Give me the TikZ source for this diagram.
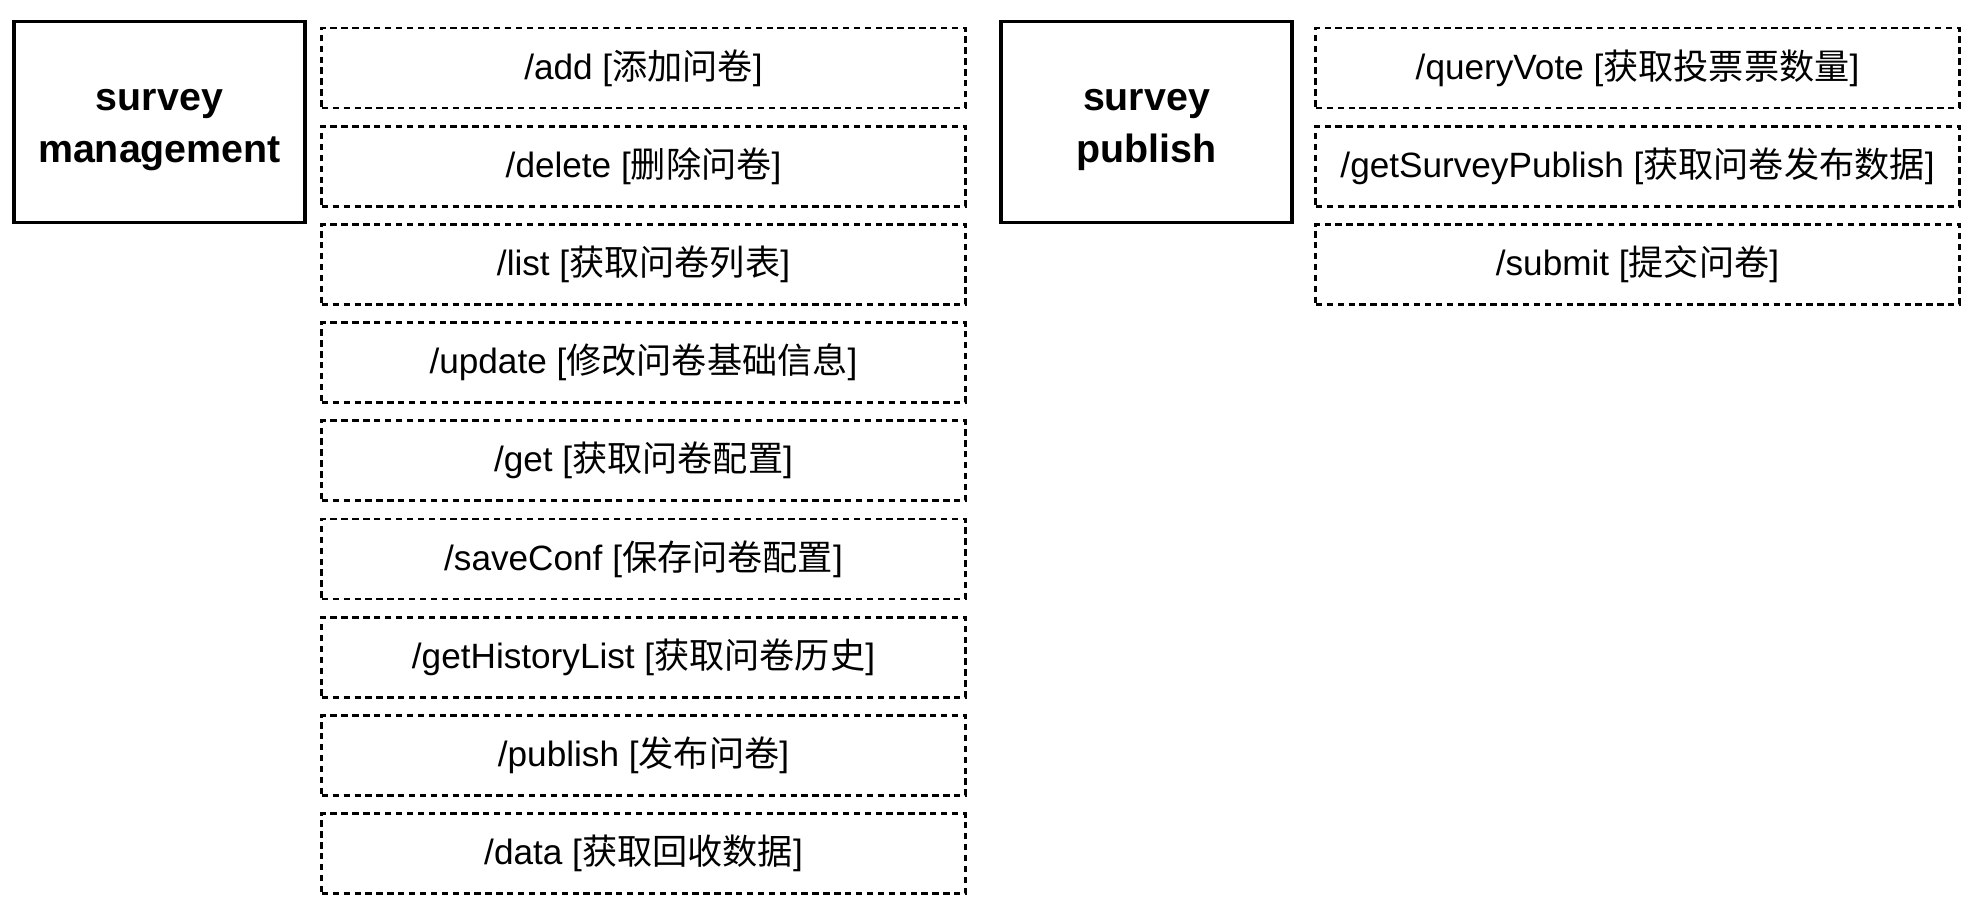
\documentclass[tikz,border=0pt]{standalone}
\usepackage{fontspec}
\setmainfont{Liberation Sans}
\newfontfamily\cjk{Noto Sans CJK SC}
\newcommand\zh[1]{{\cjk #1}}
\newcommand\topstrut{\rule{0pt}{10.5pt}}
\begin{document}
\begin{tikzpicture}[x=0.01cm,y=-0.01cm,
  module/.style={draw, line width=1pt, minimum width=2.91cm, minimum height=2.01cm, inner sep=0pt, align=center, font=\bfseries\fontsize{11.2}{14.7}\selectfont},
  api/.style={draw, line width=0.8pt, dash pattern=on 1.8pt off 1.3pt, minimum width=6.43cm, minimum height=0.8cm, inner sep=0pt, font=\fontsize{10}{12}\selectfont}]
\useasboundingbox (0,0) rectangle (1986,914);
\node[module] (mgmt) at (159.5,122) {\topstrut survey\\management};
\node[api] (add) at (643.5,68) {/add [\zh{添加问卷}]};
\node[api] (delete) at (643.5,166.2) {/delete [\zh{删除问卷}]};
\node[api] (list) at (643.5,264.4) {/list [\zh{获取问卷列表}]};
\node[api] (update) at (643.5,362.6) {/update [\zh{修改问卷基础信息}]};
\node[api] (get) at (643.5,460.8) {/get [\zh{获取问卷配置}]};
\node[api] (saveconf) at (643.5,559) {/saveConf [\zh{保存问卷配置}]};
\node[api] (history) at (643.5,657.2) {/getHistoryList [\zh{获取问卷历史}]};
\node[api] (publish) at (643.5,755.4) {/publish [\zh{发布问卷}]};
\node[api] (data) at (643.5,853.6) {/data [\zh{获取回收数据}]};
\node[module] (pub) at (1146.5,122) {\topstrut survey\\publish};
\node[api] (queryvote) at (1637.5,68) {/queryVote [\zh{获取投票票数量}]};
\node[api] (getpublish) at (1637.5,166.2) {/getSurveyPublish [\zh{获取问卷发布数据}]};
\node[api] (submit) at (1637.5,264.4) {/submit [\zh{提交问卷}]};
\end{tikzpicture}
\end{document}
